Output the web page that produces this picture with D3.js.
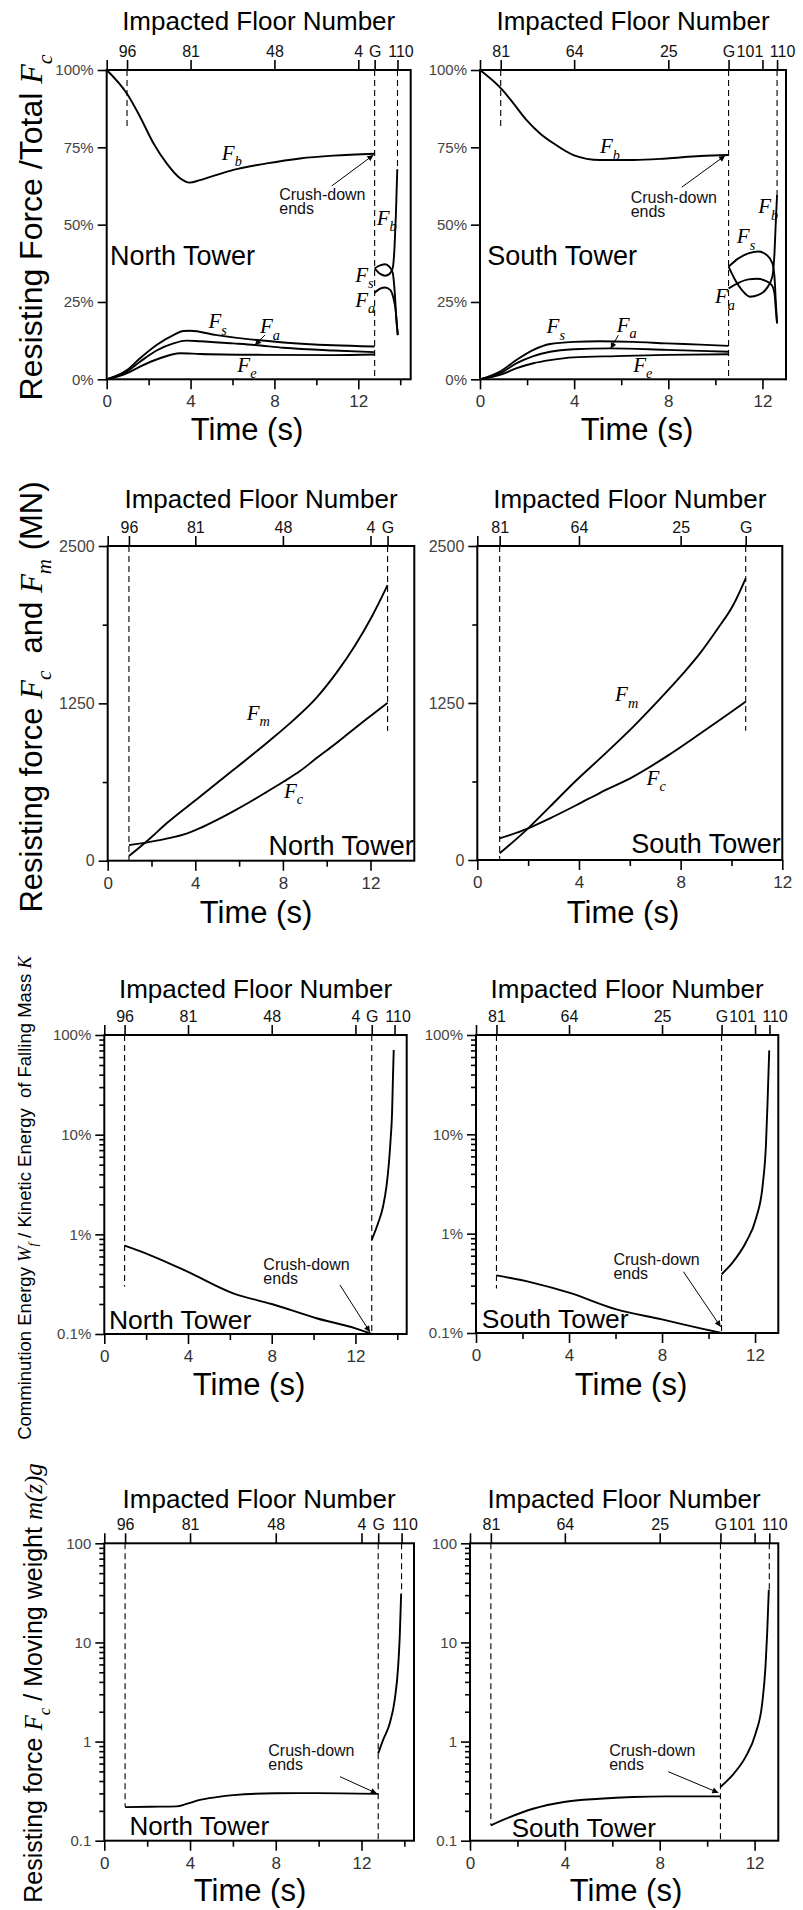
<!DOCTYPE html>
<html><head><meta charset="utf-8">
<script src="https://cdn.jsdelivr.net/npm/d3@7"></script>
<style>body{margin:0;background:#fff}svg{display:block}</style>
</head><body>
<svg id="chart" width="803" height="1910"></svg>
<script>
// ================= DATA =================
const timeMajor = [0, 4, 8, 12];
const timeMinor = [2, 6, 10, 14];
const northFloorLabels = ["96", "81", "48", "4", "G", "110"];
const northFloorTimes  = [0.97, 4, 8, 12, 12.78, 13.87];
const southFloorLabels = ["81", "64", "25", "G", "101", "110"];
const southFloorTimes  = [0.88, 4, 8, 10.56, 12, 12.62];
const pctTicks = [0, 25, 50, 75, 100];
const forceTicks = [0, 1250, 2500];
const forceMinor = [625, 1875];
const logTicks = [0.1, 1, 10, 100];
const logMinor = [0.2,0.3,0.4,0.5,0.6,0.7,0.8,0.9,2,3,4,5,6,7,8,9,20,30,40,50,60,70,80,90];

// Row 1 – share of total resisting force Fc (%), North Tower
const nFbCrush = [[0,100],[1.0,92.0],[1.59,84.9],[2.23,76.3],[2.86,69.8],[3.5,65.0],[3.95,63.6],[4.45,64.4],[5.25,66.1],[6.04,67.7],[7.63,69.8],[9.22,71.4],[10.81,72.3],[12.78,72.9]];
const nFsCrush = [[0,0],[0.97,3.0],[1.59,6.8],[2.38,11.1],[3.18,14.3],[3.66,15.6],[3.97,15.7],[5.25,14.3],[6.84,12.9],[8.43,11.9],[10.8,11.0],[12.78,10.6]];
const nFaCrush = [[0,0],[0.95,2.5],[1.59,5.7],[2.38,9.3],[3.18,11.6],[3.8,12.5],[4.45,12.3],[6.04,11.6],[7.07,11.1],[8.43,10.2],[10.81,9.3],[12.78,8.8]];
const nFeCrush = [[0,0],[0.95,1.9],[1.59,4.1],[2.54,6.8],[3.5,8.4],[4.45,8.2],[7.63,7.9],[10.81,7.8],[12.78,8.0]];
const nFbAfter = [[12.78,35.9],[13.07,34.0],[13.28,33.5],[13.48,34.0],[13.64,35.9],[13.73,42.9],[13.79,52.6],[13.83,61.2],[13.86,67.9]];
const nFsAfter = [[12.78,35.9],[13.07,36.9],[13.28,37.2],[13.48,36.4],[13.64,34.5],[13.73,28.9],[13.81,20.2],[13.88,14.3]];
const nFaAfter = [[12.78,28.0],[13.04,29.3],[13.28,29.7],[13.52,28.9],[13.66,26.7],[13.78,22.4],[13.85,17.0],[13.89,14.3]];
// Row 1 – South Tower
const sFbCrush = [[0,100],[0.96,93.5],[1.42,89.2],[1.98,83.8],[2.55,79.5],[3.12,76.3],[3.97,72.5],[5.1,70.9],[6.52,70.9],[7.93,71.4],[9.35,72.2],[10.56,72.5]];
const sFsCrush = [[0,0],[0.85,2.5],[1.56,6.3],[2.27,9.5],[2.98,11.4],[3.97,12.1],[5.1,12.3],[6.52,12.1],[7.93,11.6],[9.35,11.2],[10.56,10.8]];
const sFaCrush = [[0,0],[0.85,1.9],[1.56,5.2],[2.27,7.5],[2.98,8.9],[3.97,9.7],[5.53,10.0],[7.93,9.5],[10.56,8.9]];
const sFeCrush = [[0,0],[0.85,1.4],[1.56,3.6],[2.27,5.2],[2.98,6.2],[3.97,7.1],[5.81,7.5],[7.93,7.9],[10.56,8.1]];
const sFsAfter = [[10.56,36.4],[10.98,39.1],[11.40,40.7],[11.83,41.3],[12.18,40.2],[12.42,37.5],[12.51,33.2],[12.57,24.6],[12.62,18.1]];
const sFbAfter = [[10.56,36.4],[10.84,32.1],[11.12,28.9],[11.47,26.7],[11.83,27.3],[12.18,29.4],[12.42,33.2],[12.51,40.7],[12.57,51.5],[12.62,59.6]];
const sFaAfter = [[10.56,29.4],[10.98,31.2],[11.40,32.3],[11.76,32.5],[12.11,31.9],[12.39,30.5],[12.51,27.8],[12.57,22.4],[12.62,18.1]];

// Row 2 – resisting force Fc and Fm (MN)
const nFc = [[0.97,124],[1.93,150],[2.69,175],[3.6,215],[4.21,258],[4.97,322],[5.73,392],[6.49,466],[7.25,545],[8.02,627],[8.78,712],[9.54,815],[10.3,915],[11.06,1020],[11.82,1125],[12.78,1254]];
const nFm = [[0.97,37],[1.93,177],[2.69,297],[4.21,508],[5.73,720],[7.4,955],[8.47,1115],[9.53,1294],[10.45,1494],[11.28,1706],[12.04,1932],[12.78,2189]];
const sFc = [[0.88,172],[2.0,252],[2.86,332],[3.91,438],[4.83,535],[6.14,664],[7.45,825],[8.76,1005],[10.07,1190],[10.56,1261]];
const sFm = [[0.88,53],[2.0,252],[2.86,425],[3.91,637],[4.83,809],[6.14,1062],[7.45,1340],[8.1,1486],[8.76,1645],[9.42,1831],[10.07,2030],[10.56,2243]];

// Row 3 – comminution energy Wf / kinetic energy K (%)
const nWfCrush = [[0.97,0.77],[2.18,0.62],[4.0,0.42],[6.16,0.256],[8.0,0.2],[10.14,0.144],[12.0,0.114],[12.78,0.1]];
const nWfAfter = [[12.78,0.88],[13.08,1.29],[13.32,1.9],[13.48,3.0],[13.6,5.2],[13.68,8.9],[13.75,16.4],[13.79,35.4],[13.83,70.8]];
const sWfCrush = [[0.88,0.38],[2.46,0.32],[4.0,0.255],[6.04,0.173],[8.0,0.137],[9.61,0.112],[10.56,0.1]];
const sWfAfter = [[10.56,0.39],[11.04,0.515],[11.61,0.82],[12.04,1.42],[12.33,3.1],[12.47,7.9],[12.54,21.8],[12.61,70]];

// Row 4 – resisting force Fc / moving weight m(z)g
const nRatioCrush = [[0.97,0.218],[2.13,0.22],[3.37,0.222],[3.84,0.235],[4.46,0.258],[5.24,0.275],[6.02,0.288],[7.96,0.301],[9.9,0.302],[12.78,0.297]];
const nRatioAfter = [[12.78,0.76],[13.01,1.04],[13.32,1.53],[13.55,2.63],[13.71,5.7],[13.79,12.3],[13.85,31]];
const sRatioCrush = [[0.88,0.143],[1.68,0.173],[2.66,0.21],[3.96,0.246],[5.46,0.265],[6.86,0.276],[8.26,0.28],[10.56,0.28]];
const sRatioAfter = [[10.56,0.348],[11.06,0.457],[11.62,0.70],[12.04,1.2],[12.32,2.42],[12.46,5.7],[12.53,12.3],[12.6,34]];

// ================= DRAWING =================
const SANS = '"Liberation Sans", Arial, Helvetica, sans-serif';
const SERIF = '"Liberation Serif", "Times New Roman", serif';
// horizontal nudges of crowded top-axis labels (layout only)
const northFloorDx = [0, 0, 0, 0, 0, 3];
const southFloorDx = [0, 0, 0, 0, -13, 5];

const svg = d3.select('#chart');
svg.append('rect').attr('width',803).attr('height',1910).attr('fill','#fff');
svg.append('defs').append('marker').attr('id','ah').attr('viewBox','0 0 10 10')
  .attr('refX',10).attr('refY',5).attr('markerWidth',8).attr('markerHeight',6)
  .attr('markerUnits','userSpaceOnUse').attr('orient','auto')
  .append('path').attr('d','M0,0L10,5L0,10Z').attr('fill','#000');

function rich(g, x, y, parts, size, anchor, rotate) {
  const t = g.append('text').attr('font-family', SANS).attr('font-size', size)
    .attr('text-anchor', anchor || 'start').attr('fill', '#000');
  if (rotate) t.attr('transform', `translate(${x},${y}) rotate(-90)`);
  else t.attr('x', x).attr('y', y);
  let shift = 0;
  parts.forEach(p => {
    const s = t.append('tspan').text(p.s);
    if (p.it) s.attr('font-family', SERIF).attr('font-style', 'italic');
    const want = p.sub ? size * 0.3 : 0;
    if (want !== shift) { s.attr('dy', want - shift); shift = want; }
    if (p.sub) s.attr('font-size', size * 0.68);
  });
  return t;
}

function styleAxis(sel, fs, color) {
  sel.select('.domain').remove();
  sel.selectAll('.tick line').attr('stroke', '#000').attr('stroke-width', 1.6);
  sel.selectAll('.tick text').attr('font-family', SANS).attr('font-size', fs).attr('fill', color);
}

const fmtPct = d => d + '%';
const fmtInt = d => String(d);
const fmtLogPct = d => (d < 1 ? '0.1' : String(d)) + '%';
const fmtLog = d => (d < 1 ? '0.1' : String(d));

const panels = [
  { l:106.7, r:410.7, t:70, b:379.3, xMax:14.5, tower:'N', floors:[0,1,2,3,4,5],
    log:false, yDom:[0,100], yMaj:pctTicks, yMin:[], yFmt:fmtPct, yFs:15,
    series:[nFbCrush,nFsCrush,nFaCrush,nFeCrush,nFbAfter,nFsAfter,nFaAfter],
    dashed:[[0,81],[4,0],[5,68]], ftY:30, ttX:247, ttY:439.5,
    labels:[[5.49,70.9,'F','b'],[12.88,49.9,'F','b'],[11.85,31.6,'F','s'],[11.85,23.5,'F','a'],[4.85,16.5,'F','s'],[7.31,14.9,'F','a'],[6.23,2.5,'F','e']],
    crush:[8.23,58.0], arrows:[[[10.73,62.5],[12.72,72.5]],[[7.55,14.3],[7.07,11.1]]],
    towerText:['North Tower',0.16,37,'start',27] },
  { l:480, r:786, t:70, b:379.3, xMax:13, tower:'S', floors:[0,1,2,3,4,5],
    log:false, yDom:[0,100], yMaj:pctTicks, yMin:[], yFmt:fmtPct, yFs:15,
    series:[sFbCrush,sFsCrush,sFaCrush,sFeCrush,sFsAfter,sFbAfter,sFaAfter],
    dashed:[[0,81],[3,0],[5,59.6]], ftY:30, ttX:637, ttY:439.5,
    labels:[[5.10,73.1,'F','b'],[11.82,53.7,'F','b'],[10.91,44.0,'F','s'],[9.98,24.6,'F','a'],[2.83,14.9,'F','s'],[5.81,15.4,'F','a'],[6.51,2.5,'F','e']],
    crush:[6.40,56.9], arrows:[[[8.57,62.1],[10.41,72.3]],[[5.88,14.3],[5.55,9.9]]],
    towerText:['South Tower',0.31,37,'start',27] },
  { l:107.7, r:414.3, t:546, b:860.7, xMax:14, tower:'N', floors:[0,1,2,3,4],
    log:false, yDom:[0,2500], yMaj:forceTicks, yMin:forceMinor, yFmt:fmtInt, yFs:16,
    series:[nFc,nFm], dashed:[[0,0],[4,1030]], ftY:508, ttX:256, ttY:923,
    labels:[[6.35,1121,'F','m'],[8.05,497,'F','c']], crush:null, arrows:[],
    towerText:['North Tower',13.97,46,'end',27] },
  { l:477.3, r:782.3, t:546, b:860, xMax:12, tower:'S', floors:[0,1,2,3],
    log:false, yDom:[0,2500], yMaj:forceTicks, yMin:forceMinor, yFmt:fmtInt, yFs:16,
    series:[sFc,sFm], dashed:[[0,0],[3,1030]], ftY:508, ttX:623, ttY:923,
    labels:[[5.42,1262,'F','m'],[6.66,598,'F','c']], crush:null, arrows:[],
    towerText:['South Tower',11.94,58,'end',27] },
  { l:104.3, r:406.7, t:1035, b:1334, xMax:14.45, tower:'N', floors:[0,1,2,3,4,5],
    log:true, yDom:[0.1,100], yMaj:logTicks, yMin:logMinor, yFmt:fmtLogPct, yFs:15,
    series:[nWfCrush,nWfAfter], dashed:[[0,0.3],[4,0.1]], ftY:998, ttX:249, ttY:1395,
    labels:[], crush:[7.60,0.439], arrows:[[[11.26,0.31],[12.69,0.105]]],
    towerText:['North Tower',0.22,0.111,'start',26.5] },
  { l:476, r:778.3, t:1035, b:1333, xMax:13, tower:'S', floors:[0,1,2,3,4,5],
    log:true, yDom:[0.1,100], yMaj:logTicks, yMin:logMinor, yFmt:fmtLogPct, yFs:15,
    series:[sWfCrush,sWfAfter], dashed:[[0,0.28],[3,0.1]], ftY:998, ttX:631, ttY:1395,
    labels:[], crush:[5.91,0.483], arrows:[[[8.92,0.414],[10.52,0.1156]]],
    towerText:['South Tower',0.25,0.111,'start',26.5] },
  { l:104.3, r:414, t:1543.3, b:1840.7, xMax:14.45, tower:'N', floors:[0,1,2,3,4,5],
    log:true, yDom:[0.1,100], yMaj:logTicks, yMin:logMinor, yFmt:fmtLog, yFs:15,
    series:[nRatioCrush,nRatioAfter], dashed:[[0,0.22],[4,0.1],[5,31]], ftY:1508, ttX:250, ttY:1901,
    labels:[], crush:[7.65,0.714], arrows:[[[11.0,0.442],[12.71,0.30]]],
    towerText:['North Tower',1.17,0.114,'start',26] },
  { l:470, r:778.3, t:1543.3, b:1840.7, xMax:13, tower:'S', floors:[0,1,2,3,4,5],
    log:true, yDom:[0.1,100], yMaj:logTicks, yMin:logMinor, yFmt:fmtLog, yFs:15,
    series:[sRatioCrush,sRatioAfter], dashed:[[0,0.143],[3,0.1],[5,34]], ftY:1508, ttX:626, ttY:1901,
    labels:[], crush:[5.87,0.714], arrows:[[[8.36,0.497],[10.47,0.305]]],
    towerText:['South Tower',1.76,0.108,'start',26] }
];

function drawPanel(P) {
  const g = svg.append('g');
  const x = d3.scaleLinear().domain([0, P.xMax]).range([P.l, P.r]);
  const y = (P.log ? d3.scaleLog() : d3.scaleLinear()).domain(P.yDom).range([P.b, P.t]);
  const fLabels = P.tower === 'N' ? northFloorLabels : southFloorLabels;
  const fTimes = P.tower === 'N' ? northFloorTimes : southFloorTimes;
  const fDx = P.tower === 'N' ? northFloorDx : southFloorDx;

  // dashed floor markers
  P.dashed.forEach(([fi, vEnd]) => {
    g.append('line').attr('x1', x(fTimes[fi])).attr('x2', x(fTimes[fi]))
      .attr('y1', P.t).attr('y2', y(vEnd))
      .attr('stroke', '#000').attr('stroke-width', 1.1).attr('stroke-dasharray', '6,4');
  });

  // curves
  const line = d3.line().x(d => x(d[0])).y(d => y(d[1])).curve(d3.curveMonotoneX);
  P.series.forEach(s => g.append('path').attr('d', line(s)).attr('fill', 'none')
    .attr('stroke', '#000').attr('stroke-width', 1.9).attr('stroke-linejoin', 'round'));

  // frame
  g.append('rect').attr('x', P.l).attr('y', P.t).attr('width', P.r - P.l).attr('height', P.b - P.t)
    .attr('fill', 'none').attr('stroke', '#000').attr('stroke-width', 2);

  // bottom axis
  g.append('g').attr('transform', `translate(0,${P.b})`)
    .call(d3.axisBottom(x).tickValues(timeMajor.filter(d => d <= P.xMax + 1e-6))
      .tickSize(10).tickSizeOuter(0).tickPadding(6).tickFormat(d3.format('d')))
    .call(styleAxis, 17, '#333');
  g.append('g').attr('transform', `translate(0,${P.b})`)
    .call(d3.axisBottom(x).tickValues(timeMinor.filter(d => d < P.xMax - 0.05))
      .tickSize(6).tickSizeOuter(0).tickFormat(''))
    .call(styleAxis, 10, '#333');

  // top axis: impacted floor number
  const tv = [0].concat(P.floors.map(i => fTimes[i]));
  const tl = new Map(P.floors.map(i => [fTimes[i], fLabels[i]]));
  const td = new Map(P.floors.map(i => [fTimes[i], fDx[i]]));
  const top = g.append('g').attr('transform', `translate(0,${P.t})`)
    .call(d3.axisTop(x).tickValues(tv).tickSize(10).tickSizeOuter(0).tickPadding(3)
      .tickFormat(d => tl.get(d) || ''))
    .call(styleAxis, 16, '#111');
  top.selectAll('.tick text').attr('dx', d => td.get(d) || 0);

  // left axis
  g.append('g').attr('transform', `translate(${P.l},0)`)
    .call(d3.axisLeft(y).tickValues(P.yMaj).tickSize(9).tickSizeOuter(0).tickPadding(4).tickFormat(P.yFmt))
    .call(styleAxis, P.yFs, '#444');
  if (P.yMin.length) {
    g.append('g').attr('transform', `translate(${P.l},0)`)
      .call(d3.axisLeft(y).tickValues(P.yMin).tickSize(5).tickSizeOuter(0).tickFormat(''))
      .call(styleAxis, 10, '#444');
  }

  // axis titles
  g.append('text').attr('x', (P.l + P.r) / 2).attr('y', P.ftY).attr('text-anchor', 'middle')
    .attr('font-family', SANS).attr('font-size', 26).text('Impacted Floor Number');
  g.append('text').attr('x', P.ttX).attr('y', P.ttY).attr('text-anchor', 'middle')
    .attr('font-family', SANS).attr('font-size', 31).text('Time (s)');

  // curve labels
  P.labels.forEach(([t, v, m, s]) => {
    rich(g, x(t), y(v), [{ s: m, it: 1 }, { s: s, it: 1, sub: 1 }], 21);
  });

  // arrows
  P.arrows.forEach(([a, b]) => {
    g.append('line').attr('x1', x(a[0])).attr('y1', y(a[1])).attr('x2', x(b[0])).attr('y2', y(b[1]))
      .attr('stroke', '#000').attr('stroke-width', 1).attr('marker-end', 'url(#ah)');
  });

  // crush-down note
  if (P.crush) {
    const t = g.append('text').attr('font-family', SANS).attr('font-size', 16).attr('fill', '#111');
    t.append('tspan').attr('x', x(P.crush[0])).attr('y', y(P.crush[1])).text('Crush-down');
    t.append('tspan').attr('x', x(P.crush[0])).attr('dy', 14).text('ends');
  }

  // tower name
  const [tn, tt, tvv, anc, fs] = P.towerText;
  g.append('text').attr('x', x(tt)).attr('y', y(tvv)).attr('text-anchor', anc)
    .attr('font-family', SANS).attr('font-size', fs).text(tn);
}

panels.forEach(drawPanel);

// rotated y-axis titles
rich(svg, 42, 227.5, [{ s: 'Resisting Force /Total ' }, { s: 'F', it: 1 }, { s: 'c', it: 1, sub: 1 }], 32, 'middle', true);
rich(svg, 42, 697, [{ s: 'Resisting force ' }, { s: 'F', it: 1 }, { s: 'c', it: 1, sub: 1 }, { s: '\u00A0 and ' },
  { s: 'F', it: 1 }, { s: 'm', it: 1, sub: 1 }, { s: ' (MN)' }], 31, 'middle', true);
rich(svg, 31, 1198, [{ s: 'Comminution Energy ' }, { s: 'W', it: 1 }, { s: 'f', it: 1, sub: 1 },
  { s: ' / Kinetic Energy\u00A0 of Falling Mass ' }, { s: 'K', it: 1 }], 18.5, 'middle', true);
rich(svg, 42, 1683, [{ s: 'Resisting force ' }, { s: 'F', it: 1 }, { s: 'c', it: 1, sub: 1 },
  { s: ' / Moving weight ' }, { s: 'm(z)g', it: 1 }], 25, 'middle', true);
</script>
</body></html>
